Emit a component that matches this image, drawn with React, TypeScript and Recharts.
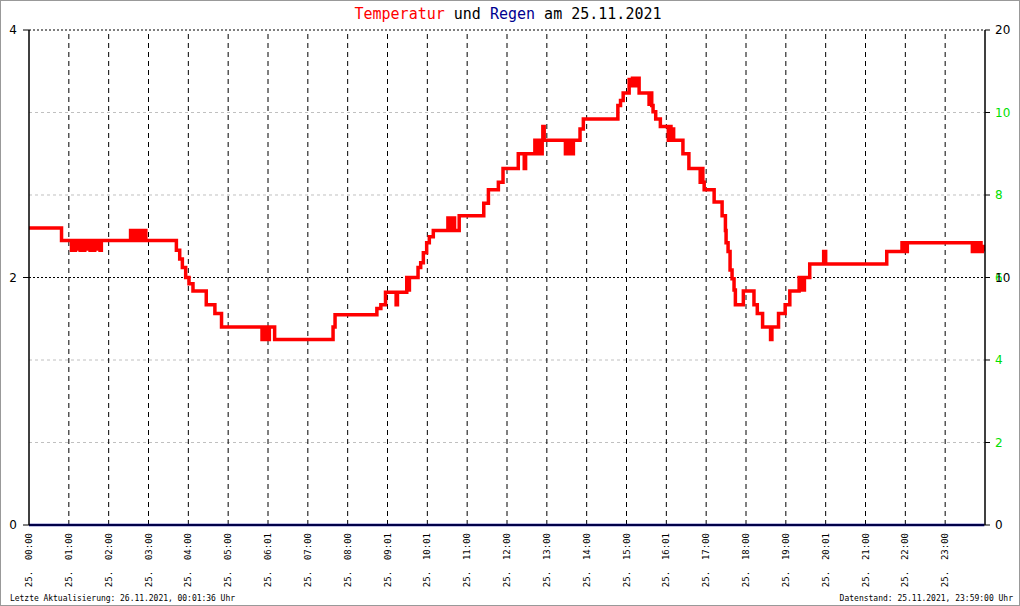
import {
  LineChart,
  Line,
  XAxis,
  YAxis,
  ReferenceLine,
} from "recharts";

// Temperature readings: minute of day -> °C (step series)
const minutes = [
  0, 49, 64, 66, 68, 70, 72, 74, 77, 79, 82, 84, 87, 89, 92, 94, 97, 99, 102, 104, 107, 109,
  153, 157, 159, 163, 165, 169, 171, 176,
  222, 227, 231, 236, 241, 247, 267, 280, 290,
  351, 353, 355, 357, 359, 362, 370,
  458, 461, 524, 530, 537, 553, 555, 569, 571, 573, 586, 590, 594, 599, 603, 609,
  631, 634, 637, 641, 648,
  685, 692, 707, 714, 737, 746, 748, 762, 765, 768, 771, 773, 774, 776,
  808, 810, 812, 815, 817, 820, 823, 830, 835,
  887, 891, 895, 904, 907, 909, 913, 915, 919,
  934, 936, 938, 940, 944, 951, 963, 965, 967, 969, 971, 985, 994,
  1011, 1013, 1015, 1017, 1032, 1044, 1049, 1050, 1053, 1056, 1059, 1062, 1064,
  1076, 1092, 1097, 1105, 1117, 1119, 1129, 1139, 1146,
  1160, 1162, 1164, 1166, 1168, 1176, 1197, 1200, 1292,
  1315, 1317, 1319, 1321, 1323,
  1421, 1423, 1425, 1427, 1429, 1432, 1434, 1436, 1439,
];

const temps = [
  2.4, 2.3, 2.22, 2.3, 2.22, 2.3, 2.23, 2.3, 2.22, 2.3, 2.22, 2.3, 2.23, 2.3, 2.22, 2.3, 2.22, 2.3, 2.23, 2.3, 2.22, 2.3,
  2.38, 2.3, 2.38, 2.3, 2.38, 2.3, 2.38, 2.3,
  2.22, 2.15, 2.08, 2.0, 1.95, 1.89, 1.78, 1.71, 1.6,
  1.5, 1.6, 1.5, 1.6, 1.5, 1.6, 1.5,
  1.6, 1.7, 1.75, 1.78, 1.88, 1.78, 1.88, 2.0, 1.9, 2.0, 2.08, 2.12, 2.2, 2.28, 2.33, 2.38,
  2.48, 2.38, 2.48, 2.38, 2.5,
  2.6, 2.71, 2.77, 2.88, 3.0, 2.88, 3.0, 3.11, 3.0, 3.11, 3.0, 3.11, 3.22, 3.11,
  3.0, 3.11, 3.0, 3.11, 3.0, 3.11, 3.11, 3.2, 3.28,
  3.39, 3.43, 3.49, 3.6, 3.55, 3.61, 3.55, 3.61, 3.49,
  3.4, 3.49, 3.39, 3.34, 3.28, 3.22, 3.11, 3.22, 3.11, 3.2, 3.11, 3.0, 2.88,
  2.77, 2.88, 2.77, 2.71, 2.61, 2.5, 2.38, 2.28, 2.21, 2.06, 1.99, 1.9, 1.78,
  1.89, 1.78, 1.71, 1.6, 1.5, 1.6, 1.71, 1.78, 1.89,
  2.0, 1.9, 2.0, 1.9, 2.0, 2.11, 2.21, 2.11, 2.21,
  2.28, 2.21, 2.28, 2.21, 2.28,
  2.21, 2.28, 2.21, 2.28, 2.21, 2.28, 2.21, 2.25, 2.21,
];

// Rain (mm) stays at zero all day
const rainMinutes = [0, 1439];
const rain = [0, 0];

const hourTicks = [
  0, 60, 120, 180, 240, 300, 360, 420, 480, 540, 600, 660,
  720, 780, 840, 900, 960, 1020, 1080, 1140, 1200, 1260, 1320, 1380,
];
const hourLabels = [
  "00:00", "01:00", "02:00", "03:00", "04:00", "05:00", "06:01", "07:00",
  "08:00", "09:01", "10:01", "11:00", "12:00", "13:00", "14:00", "15:00",
  "16:01", "17:00", "18:00", "19:00", "20:01", "21:00", "22:00", "23:00",
];

const leftTicks = [0, 2, 4];
const leftGrayLines = [0.6667, 1.3333, 2.6667, 3.3333];
const leftBlackLines = [2, 4];

const rightTicks = [0, 3.3333, 6.6667, 10, 13.3333, 16.6667, 20];
const rightBlackLabels = ["0", "", "", "10", "", "", "20"];
const rightGreenLabels = ["", "2", "4", "6", "8", "10", ""];

const tempData = minutes.map((m, i) => ({ t: m, temp: temps[i] }));
const rainData = rainMinutes.map((m, i) => ({ t: m, rain: rain[i] }));

const MONO = "'DejaVu Sans Mono', monospace";
const SANS = "'DejaVu Sans', sans-serif";

const XTick = ({ x, index }: any) => (
  <text
    x={x}
    y={533}
    transform={`rotate(-90, ${x}, 533)`}
    textAnchor="end"
    dy="0.35em"
    fontFamily={MONO}
    fontSize={9}
    fill="#000"
  >
    {`25.\u00a0\u00a0${hourLabels[index]}`}
  </text>
);

const LeftTick = ({ x, y, payload }: any) => (
  <text x={x - 4} y={y} dy="0.35em" textAnchor="end" fontFamily={SANS} fontSize={12} fill="#000">
    {payload.value}
  </text>
);

const RightTick = ({ x, y, index }: any) => (
  <g>
    <text x={x + 3} y={y} dy="0.35em" fontFamily={SANS} fontSize={12} fill="#00e000">
      {rightGreenLabels[index]}
    </text>
    <text x={x + 3} y={y} dy="0.35em" fontFamily={SANS} fontSize={12} fill="#000">
      {rightBlackLabels[index]}
    </text>
  </g>
);

export default function App() {
  return (
    <div style={{ position: "absolute", left: 0, top: 0, width: 1020, height: 606, background: "#fff" }}>
      <svg width={1020} height={606} style={{ position: "absolute", left: 0, top: 0 }}>
        <rect x={0.5} y={0.5} width={1019} height={605} fill="none" stroke="#999" />
        <text x={508} y={19} textAnchor="middle" fontFamily={MONO} fontSize={15}>
          <tspan fill="#ff0000">Temperatur</tspan>
          <tspan fill="#000"> und </tspan>
          <tspan fill="#000090">Regen</tspan>
          <tspan fill="#000"> am 25.11.2021</tspan>
        </text>
        <text x={10} y={601} fontFamily={MONO} fontSize={8} textLength={225} fill="#000">
          Letzte Aktualisierung: 26.11.2021, 00:01:36 Uhr
        </text>
        <text x={1013} y={601} textAnchor="end" fontFamily={MONO} fontSize={8} fill="#000">
          Datenstand: 25.11.2021, 23:59:00 Uhr
        </text>
      </svg>
      <div style={{ position: "absolute", left: 0, top: 0 }}>
        <LineChart width={1020} height={606} margin={{ top: 30, right: 0, bottom: 0, left: 0 }}>
          <XAxis
            dataKey="t"
            type="number"
            domain={[0, 1440]}
            ticks={hourTicks}
            interval={0}
            tick={<XTick />}
            tickLine={false}
            axisLine={{ stroke: "#000" }}
            height={81}
            allowDataOverflow
          />
          <YAxis
            yAxisId="left"
            domain={[0, 4]}
            ticks={leftTicks}
            tick={<LeftTick />}
            tickSize={6}
            tickLine={{ stroke: "#000" }}
            axisLine={{ stroke: "#000", strokeWidth: 1.5 }}
            width={29}
          />
          <YAxis
            yAxisId="right"
            orientation="right"
            domain={[0, 20]}
            ticks={rightTicks}
            interval={0}
            tick={<RightTick />}
            tickSize={5}
            tickLine={{ stroke: "#000" }}
            axisLine={{ stroke: "#000", strokeWidth: 1.5 }}
            width={35}
          />
          {leftGrayLines.map((v) => (
            <ReferenceLine key={`g-${v}`} yAxisId="left" y={v} stroke="#c0c0c0" strokeDasharray="3 3" />
          ))}
          {leftBlackLines.map((v) => (
            <ReferenceLine key={`b-${v}`} yAxisId="left" y={v} stroke="#000" strokeDasharray="2 2" />
          ))}
          {hourTicks.slice(1).map((h) => (
            <ReferenceLine key={`h-${h}`} yAxisId="left" x={h} stroke="#000" strokeDasharray="5 4" />
          ))}
          <Line
            yAxisId="right"
            data={rainData}
            dataKey="rain"
            type="linear"
            stroke="#000090"
            strokeWidth={2.5}
            dot={false}
            isAnimationActive={false}
          />
          <Line
            yAxisId="left"
            data={tempData}
            dataKey="temp"
            type="stepAfter"
            stroke="#ff0000"
            strokeWidth={3.5}
            dot={false}
            isAnimationActive={false}
          />
        </LineChart>
      </div>
    </div>
  );
}
